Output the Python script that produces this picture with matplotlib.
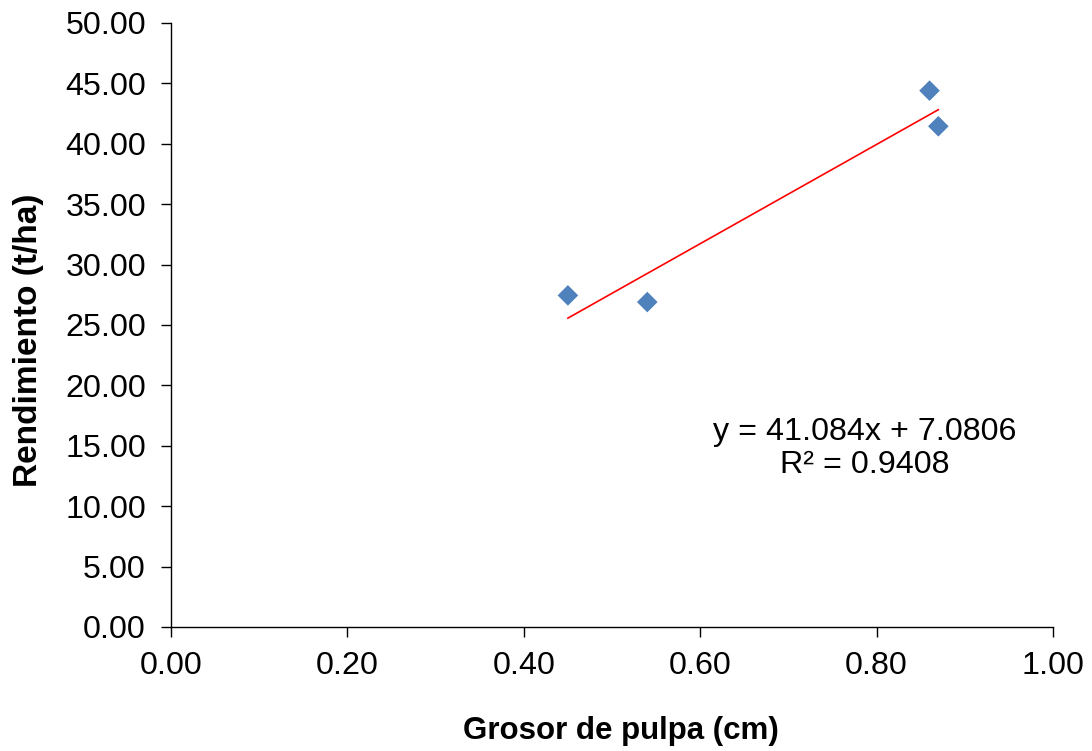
import numpy as np
import matplotlib
matplotlib.use('Agg')
import matplotlib.pyplot as plt

# values
grosor = [0.45, 0.54, 0.86, 0.87]          # cm
rendimiento = [27.45, 26.90, 44.40, 41.45]  # t/ha
slope, intercept = 41.084, 7.0806
r2 = 0.9408

x_ticks = [0.0, 0.2, 0.4, 0.6, 0.8, 1.0]
y_ticks = [0, 5, 10, 15, 20, 25, 30, 35, 40, 45, 50]

plt.rcParams['font.family'] = ['Liberation Sans', 'DejaVu Sans']
fs = 23.2

fig = plt.figure(figsize=(10.92, 7.51), dpi=100)
ax = fig.add_axes([171 / 1092, 1 - 627 / 751, 882 / 1092, 604 / 751])

ax.scatter(grosor, rendimiento, marker='D', s=10.5 ** 2, color='#4F81BD',
           edgecolors='none', zorder=3)

# linear trendline over the data range
xs = np.array([min(grosor), max(grosor)])
ax.plot(xs, slope * xs + intercept, color='red', linewidth=1.2, zorder=2)

ax.text(0.786, 0.295, f'y = {slope}x + {intercept}\nR² = {r2}',
        transform=ax.transAxes, ha='center', va='center',
        fontsize=fs, linespacing=1.12)

ax.set_xlim(0, 1)
ax.set_ylim(0, 50)
ax.set_xticks(x_ticks)
ax.set_yticks(y_ticks)
ax.set_xticklabels([f'{v:.2f}' for v in x_ticks])
ax.set_yticklabels([f'{v:.2f}' for v in y_ticks])

for side in ['top', 'right']:
    ax.spines[side].set_visible(False)
for side in ['left', 'bottom']:
    ax.spines[side].set_linewidth(1.0)

ax.tick_params(axis='both', direction='out', length=7, width=1.0,
               labelsize=fs)
ax.tick_params(axis='y', pad=11)
ax.tick_params(axis='x', pad=10)

ax.set_xlabel('Grosor de pulpa (cm)', fontsize=22.5, fontweight='bold')
ax.set_ylabel('Rendimiento (t/ha)', fontsize=24, fontweight='bold')
ax.xaxis.set_label_coords(0.510, -0.147)
ax.yaxis.set_label_coords(-0.144, 0.474)

fig.savefig('out.png', dpi=100, facecolor='white')
